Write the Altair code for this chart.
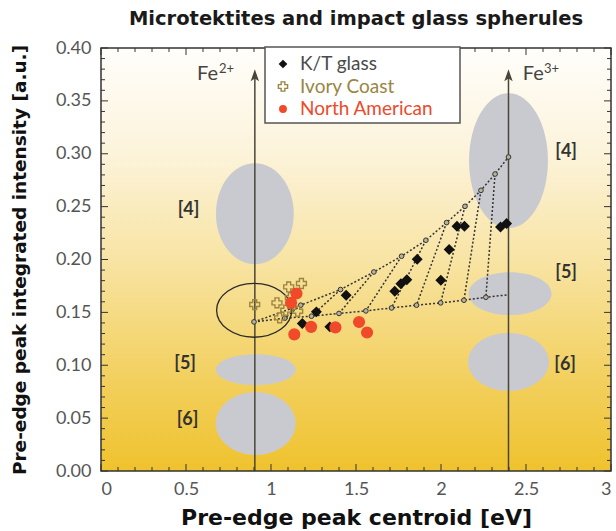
import altair as alt
import pandas as pd

# ---------------- measured samples (centroid eV, integrated intensity a.u.) ----------------
samples = ["K/T glass", "Ivory Coast", "North American"]
sample_label_colors = ["#4a4a4a", "#9a8544", "#ee4a2a"]

kt_x = [1.184, 1.267, 1.346, 1.442, 1.728, 1.764, 1.799, 1.860, 1.999, 2.048, 2.094, 2.138, 2.350, 2.386]
kt_y = [0.1395, 0.1505, 0.1363, 0.1662, 0.1700, 0.1771, 0.1809, 0.2002, 0.1804, 0.2094, 0.2314, 0.2314, 0.2307, 0.2340]

ic_x = [0.904, 1.035, 1.051, 1.104, 1.179, 1.114, 1.087, 1.157]
ic_y = [0.1574, 0.1590, 0.1448, 0.1741, 0.1773, 0.1639, 0.1521, 0.1511]

na_x = [1.150, 1.118, 1.137, 1.236, 1.379, 1.518, 1.565]
na_y = [0.1678, 0.1590, 0.1292, 0.1363, 0.1358, 0.1409, 0.1310]

# ---------------- mixing grid between Fe2+ and the [4]/[5] Fe3+ end-members ----------------
top_x = [0.900, 1.175, 1.409, 1.605, 1.768, 1.911, 2.033, 2.141, 2.235, 2.318, 2.397]
top_y = [0.1410, 0.1568, 0.1716, 0.1882, 0.2031, 0.2182, 0.2349, 0.2503, 0.2654, 0.2808, 0.2969]
bot_x = [0.900, 1.081, 1.238, 1.400, 1.558, 1.709, 1.856, 1.998, 2.135, 2.264, 2.397]
bot_y = [0.1410, 0.1445, 0.1464, 0.1490, 0.1514, 0.1542, 0.1568, 0.1590, 0.1615, 0.1643, 0.1667]

# ---------------- reference end-member fields ----------------
fe2_x = 0.905
fe3_x = 2.397
arrow_tip = 0.380

reg_x = [0.905, 0.910, 0.910, 2.397, 2.406, 2.397]
reg_y = [0.2432, 0.0958, 0.0449, 0.2933, 0.1677, 0.1030]
reg_hw = [0.229, 0.235, 0.235, 0.232, 0.244, 0.238]
reg_hh = [0.0477, 0.0146, 0.0298, 0.0638, 0.0203, 0.0274]

lab_text = ["[4]", "[5]", "[6]", "[4]", "[5]", "[6]"]
lab_x = [0.515, 0.495, 0.509, 2.736, 2.736, 2.730]
lab_y = [0.2465, 0.1015, 0.0482, 0.3018, 0.1875, 0.1001]

ring_x, ring_y, ring_hw, ring_hh = 0.901, 0.1520, 0.221, 0.0255

# ion labels: "Fe" and its charge as a raised, smaller text
ion_x = [0.565, 2.481]
ion_y = [0.3697, 0.3697]
ion_sup_x = [0.694, 2.606]
ion_sup_y = [0.3760, 0.3760]
ion_charge = ["2+", "3+"]

# ---------------- layout ----------------
W, H = 510, 423
XMAX, YMAX = 3.0, 0.40
PX_X = W / XMAX
PX_Y = H / YMAX

XS = alt.Scale(domain=[0, XMAX], nice=False, zero=False)
YS = alt.Scale(domain=[0, YMAX], nice=False, zero=False)

XAX = alt.Axis(
    values=[0, 0.5, 1, 1.5, 2, 2.5, 3], format=".1~f", ticks=False, domain=False, grid=False,
    labelFont="Lato", labelFontSize=18, labelColor="#555555", labelPadding=9,
    title="Pre-edge peak centroid [eV]", titleFont="DejaVu Sans", titleFontSize=22,
    titleFontWeight="bold", titleColor="#111111", titlePadding=9,
)
YAX = alt.Axis(
    values=[0, 0.05, 0.10, 0.15, 0.20, 0.25, 0.30, 0.35, 0.40], format=".2f", ticks=False,
    domain=False, grid=False, labelFont="Lato", labelFontSize=18, labelColor="#555555",
    labelPadding=10, title="Pre-edge peak integrated intensity [a.u.]", titleFont="DejaVu Sans",
    titleFontSize=18.5, titleFontWeight="bold", titleColor="#111111", titlePadding=26,
)


def X(field="x"):
    return alt.X(f"{field}:Q", scale=XS, axis=XAX)


def Y(field="y"):
    return alt.Y(f"{field}:Q", scale=YS, axis=YAX)


def ellipse_path(ratio):
    k = 0.5523
    r = ratio
    return (f"M-1,0 C-1,{-k*r:.4f} {-k:.4f},{-r:.4f} 0,{-r:.4f} "
            f"C{k:.4f},{-r:.4f} 1,{-k*r:.4f} 1,0 "
            f"C1,{k*r:.4f} {k:.4f},{r:.4f} 0,{r:.4f} "
            f"C{-k:.4f},{r:.4f} -1,{k*r:.4f} -1,0 Z")


# ---------------- background gradient ----------------
bg_df = pd.DataFrame({"x": [0.0], "x2": [XMAX], "y": [0.0], "y2": [YMAX]})
background = alt.Chart(bg_df).mark_rect(
    fill=alt.LinearGradient(
        gradient="linear", x1=0, x2=0, y1=0, y2=1,
        stops=[
            alt.GradientStop(color="#fffefb", offset=0.0),
            alt.GradientStop(color="#fcf3da", offset=0.25),
            alt.GradientStop(color="#f8e4a4", offset=0.5),
            alt.GradientStop(color="#f3d266", offset=0.75),
            alt.GradientStop(color="#efc22d", offset=1.0),
        ],
    )
).encode(x=X(), x2="x2:Q", y=Y(), y2="y2:Q")

# ---------------- grey coordination fields ----------------
reg_df = pd.DataFrame({
    "x": reg_x, "y": reg_y,
    "shape": [ellipse_path((hh * PX_Y) / (hw * PX_X)) for hw, hh in zip(reg_hw, reg_hh)],
    "size": [(2 * hw * PX_X) ** 2 for hw in reg_hw],
})
regions = alt.Chart(reg_df).mark_point(filled=True, opacity=1, fill="#c9cacf", strokeWidth=0).encode(
    x=X(), y=Y(), shape=alt.Shape("shape:N", scale=None), size=alt.Size("size:Q", scale=None)
)

ring_df = pd.DataFrame({
    "x": [ring_x], "y": [ring_y],
    "shape": [ellipse_path((ring_hh * PX_Y) / (ring_hw * PX_X))],
    "size": [(2 * ring_hw * PX_X) ** 2],
})
ring = alt.Chart(ring_df).mark_point(filled=False, opacity=1, stroke="#2a2a2a", strokeWidth=1.3).encode(
    x=X(), y=Y(), shape=alt.Shape("shape:N", scale=None), size=alt.Size("size:Q", scale=None)
)

# ---------------- Fe2+ / Fe3+ arrows ----------------
arrow_df = pd.DataFrame({"x": [fe2_x, fe3_x], "y": [0.0, 0.0], "y2": [arrow_tip - 4 / PX_Y] * 2})
arrow_lines = alt.Chart(arrow_df).mark_rule(color="#4a4538", strokeWidth=1.5).encode(
    x=X(), y=Y(), y2="y2:Q"
)
head_df = pd.DataFrame({"x": [fe2_x, fe3_x], "y": [arrow_tip - 6 / PX_Y] * 2})
arrow_heads = alt.Chart(head_df).mark_point(
    shape="M0,-1 L0.7,1 L0,0.55 L-0.7,1 Z", size=144, filled=True, opacity=1, color="#4a4538"
).encode(x=X(), y=Y())

ion_df = pd.DataFrame({"x": ion_x, "y": ion_y, "t": ["Fe", "Fe"]})
ion_text = alt.Chart(ion_df).mark_text(
    font="Lato", fontSize=20, color="#444444", align="left", baseline="alphabetic"
).encode(x=X(), y=Y(), text="t:N")
sup_df = pd.DataFrame({"x": ion_sup_x, "y": ion_sup_y, "t": ion_charge})
sup_text = alt.Chart(sup_df).mark_text(
    font="Lato", fontSize=13, color="#444444", align="left", baseline="alphabetic"
).encode(x=X(), y=Y(), text="t:N")

# ---------------- mixing lines ----------------
rows = []
for i, (x, y) in enumerate(zip(top_x, top_y)):
    rows.append({"line": "top", "o": i, "x": x, "y": y})
for i, (x, y) in enumerate(zip(bot_x, bot_y)):
    rows.append({"line": "bottom", "o": i, "x": x, "y": y})
for i in range(1, len(top_x) - 1):
    rows.append({"line": f"tie{i}", "o": 0, "x": top_x[i], "y": top_y[i]})
    rows.append({"line": f"tie{i}", "o": 1, "x": bot_x[i], "y": bot_y[i]})
grid_df = pd.DataFrame(rows)
grid_lines = alt.Chart(grid_df).mark_line(
    color="#333333", strokeWidth=1.5, strokeDash=[2, 2]
).encode(x=X(), y=Y(), detail="line:N", order="o:Q")

node_df = pd.DataFrame({"x": top_x + bot_x[1:-1], "y": top_y + bot_y[1:-1]})
nodes = alt.Chart(node_df).mark_point(
    shape="circle", size=22, filled=True, opacity=1, fill="#b9b39c", stroke="#333333", strokeWidth=1
).encode(x=X(), y=Y())

# ---------------- region labels ----------------
lab_df = pd.DataFrame({"x": lab_x, "y": lab_y, "t": lab_text})
labels = alt.Chart(lab_df).mark_text(
    font="Lato", fontSize=18, fontWeight="bold", color="#333333", align="center", baseline="middle"
).encode(x=X(), y=Y(), text="t:N")

# ---------------- samples ----------------
SHAPE = alt.Scale(domain=samples, range=["diamond", "cross", "circle"])
FILL = alt.Scale(domain=samples, range=["#111111", "transparent", "#f04a2a"])
STROKE = alt.Scale(domain=samples, range=["#111111", "#9b8540", "#f04a2a"])

pts = pd.DataFrame({
    "x": kt_x + ic_x + na_x,
    "y": kt_y + ic_y + na_y,
    "sample": [samples[0]] * len(kt_x) + [samples[1]] * len(ic_x) + [samples[2]] * len(na_x),
})
points = alt.Chart(pts).mark_point(opacity=1, strokeWidth=1.4).encode(
    x=X(), y=Y(),
    shape=alt.Shape("sample:N", scale=SHAPE, legend=None),
    fill=alt.Fill("sample:N", scale=FILL, legend=None),
    stroke=alt.Stroke("sample:N", scale=STROKE, legend=None),
    size=alt.Size("sample:N", scale=alt.Scale(domain=samples, range=[80, 115, 60]), legend=None),
)

# ---------------- key (boxed, with per-sample label colours) ----------------
key_box = alt.Chart(pd.DataFrame({"k": [0]})).mark_rect(
    fill="white", stroke="#555555", strokeWidth=1.5
).encode(x=alt.value(164), x2=alt.value(359), y=alt.value(-1), y2=alt.value(75))

key_layers = [key_box]
for s, col, row_y, sym_size in zip(samples, sample_label_colors, [16, 38.5, 61], [45, 85, 42]):
    row_df = pd.DataFrame({"sample": [s]})
    key_layers.append(alt.Chart(row_df).mark_point(opacity=1, strokeWidth=1.4, size=sym_size).encode(
        x=alt.value(182), y=alt.value(row_y),
        shape=alt.Shape("sample:N", scale=SHAPE, legend=None),
        fill=alt.Fill("sample:N", scale=FILL, legend=None),
        stroke=alt.Stroke("sample:N", scale=STROKE, legend=None),
    ))
    key_layers.append(alt.Chart(row_df).mark_text(
        font="Lato", fontSize=19, color=col, align="left", baseline="middle"
    ).encode(x=alt.value(199), y=alt.value(row_y), text="sample:N"))

# ---------------- inward frame ticks ----------------
x_ticks = [round(i * 0.1, 1) for i in range(31)]
y_ticks = [round(i * 0.01, 2) for i in range(41)]
xt = pd.DataFrame({"x": x_ticks, "major": [abs(v * 2 - round(v * 2)) < 1e-6 for v in x_ticks]})
yt = pd.DataFrame({"y": y_ticks, "major": [abs(v * 20 - round(v * 20)) < 1e-6 for v in y_ticks]})


def tick_layers():
    out = []
    for major, ln in [(True, 7), (False, 4)]:
        xd = xt[xt.major == major]
        yd = yt[yt.major == major]
        out.append(alt.Chart(xd).mark_rule(color="#333333", strokeWidth=1).encode(
            x=X(), y=alt.value(H), y2=alt.value(H - ln)))
        out.append(alt.Chart(xd).mark_rule(color="#333333", strokeWidth=1).encode(
            x=X(), y=alt.value(0), y2=alt.value(ln)))
        out.append(alt.Chart(yd).mark_rule(color="#333333", strokeWidth=1).encode(
            y=Y(), x=alt.value(0), x2=alt.value(ln)))
        out.append(alt.Chart(yd).mark_rule(color="#333333", strokeWidth=1).encode(
            y=Y(), x=alt.value(W), x2=alt.value(W - ln)))
    return out


frame = alt.Chart(bg_df).mark_rect(filled=False, stroke="#333333", strokeWidth=1.5).encode(
    x=X(), x2="x2:Q", y=Y(), y2="y2:Q"
)

chart = alt.layer(
    background, regions, arrow_lines, arrow_heads, grid_lines, nodes, ring, labels,
    ion_text, sup_text, *tick_layers(), frame, points, *key_layers,
).properties(
    width=W, height=H,
    autosize=alt.AutoSizeParams(type="none"),
    padding={"left": 101, "top": 48, "right": 5, "bottom": 60},
    background="white",
    title=alt.TitleParams(
        "Microtektites and impact glass spherules", font="DejaVu Sans", fontSize=19.5,
        fontWeight="bold", color="#1a1a1a", anchor="middle", offset=10,
    ),
).configure_view(stroke=None)

chart.save("out.html", embed_options={"renderer": "svg", "actions": False})
